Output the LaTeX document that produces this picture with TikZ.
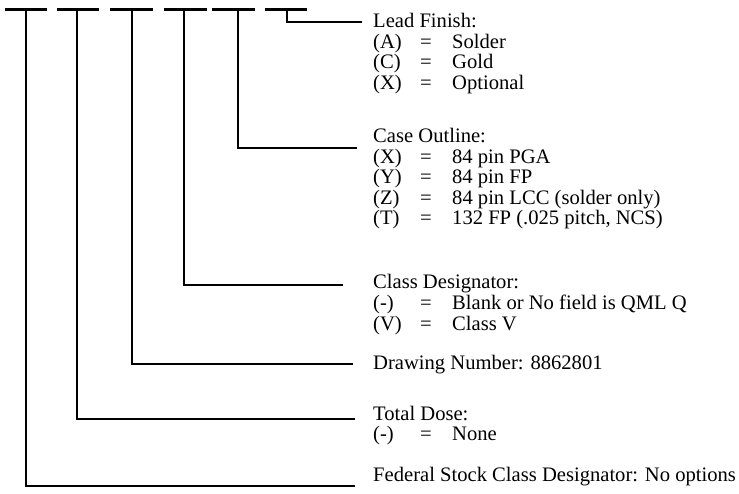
\documentclass[tikz,border=0pt]{standalone}
\usepackage{fontspec}
\setmainfont{Liberation Serif}
\newcommand\optrow[2]{\makebox[47pt][l]{#1}\makebox[32pt][l]{=}#2}
\begin{document}
\begin{tikzpicture}[x=1pt,y=-1pt,
  wire/.style={draw=black, line width=2.2pt, line cap=butt, line join=miter},
  lbl/.style={anchor=base west, inner sep=0pt, font=\fontsize{20.6}{20.5}\selectfont}]
\useasboundingbox (0,0) rectangle (739,494);
% field dashes
\foreach \a/\b in {5/47,57/99,110/153,164/207,212/255,265/307}
  \draw[wire] (\a,9.5) -- (\b,9.5);
% tops of the leader lines
\coordinate (t1) at (26,9.5);
\coordinate (t2) at (77,9.5);
\coordinate (t3) at (132,9.5);
\coordinate (t4) at (184,9.5);
\coordinate (t5) at (238,9.5);
\coordinate (t6) at (287,9.5);
% ends of the leader lines
\coordinate (e1) at (355,486);
\coordinate (e2) at (355,419);
\coordinate (e3) at (353,364);
\coordinate (e4) at (343,285);
\coordinate (e5) at (357,148);
\coordinate (e6) at (362,22);
% labels
\node[lbl] (lead) at (373,28) {\begin{tabular}[t]{@{}l@{}}Lead Finish:\\ \optrow{(A)}{Solder}\\ \optrow{(C)}{Gold}\\ \optrow{(X)}{Optional}\end{tabular}};
\node[lbl] (case) at (373,143) {\begin{tabular}[t]{@{}l@{}}Case Outline:\\ \optrow{(X)}{84 pin PGA}\\ \optrow{(Y)}{84 pin FP}\\ \optrow{(Z)}{84 pin LCC (solder only)}\\ \optrow{(T)}{132 FP (.025 pitch, NCS)}\end{tabular}};
\node[lbl] (class) at (373,289) {\begin{tabular}[t]{@{}l@{}}Class Designator:\\ \optrow{(-)}{Blank or No field is QML Q}\\ \optrow{(V)}{Class V}\end{tabular}};
\node[lbl] (draw) at (373,370) {Drawing Number: 8862801};
\node[lbl] (dose) at (373,420) {\begin{tabular}[t]{@{}l@{}}Total Dose:\\ \optrow{(-)}{None}\end{tabular}};
\node[lbl] (fed) at (373,481) {Federal Stock Class Designator: No options};
% connectors
\draw[wire] (t1) |- (e1);
\draw[wire] (t2) |- (e2);
\draw[wire] (t3) |- (e3);
\draw[wire] (t4) |- (e4);
\draw[wire] (t5) |- (e5);
\draw[wire] (t6) |- (e6);
\end{tikzpicture}
\end{document}
